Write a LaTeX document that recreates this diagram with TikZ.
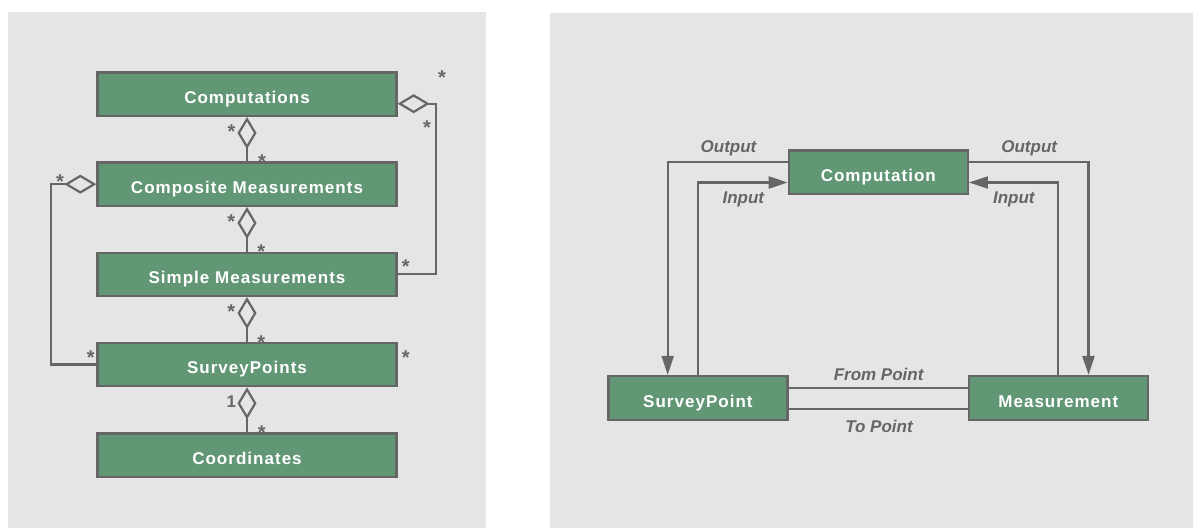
\documentclass[tikz,border=0pt]{standalone}
\usepackage{fontspec}
\setmainfont{Liberation Sans}
\newfontfamily\boxfont{Liberation Sans}[LetterSpace=6]
\usetikzlibrary{arrows.meta}
\definecolor{panelgray}{RGB}{229,229,229}
\definecolor{linegray}{RGB}{102,102,102}
\definecolor{boxgreen}{RGB}{98,151,118}
\begin{document}
\begin{tikzpicture}[x=1pt,y=-1pt,
  umlbox/.style={draw=linegray, line width=2.3pt, fill=boxgreen, text=white,
    font=\boxfont\bfseries\fontsize{17}{20}\selectfont, inner sep=0pt,
    text height=18.2pt, text depth=0pt},
  leftbox/.style={umlbox, minimum width=299pt, minimum height=43.3pt},
  rightbox/.style={umlbox, minimum width=179pt, minimum height=43.7pt},
  conn/.style={draw=linegray, line width=2.2pt},
  agg/.style={conn, {Diamond[open, length=32pt, width=19pt]}-},
  mult/.style={text=linegray, font=\bfseries\fontsize{20}{24}\selectfont, inner sep=0pt, anchor=base, yshift=-11.5pt},
  multnum/.style={text=linegray, font=\bfseries\fontsize{17}{20}\selectfont, inner sep=0pt, anchor=base, yshift=-6.1pt},
  flowlbl/.style={text=linegray, font=\bfseries\itshape\fontsize{17}{20}\selectfont, inner sep=0pt, anchor=base},
  flow/.style={conn, -{Triangle[length=19pt, width=12pt]}}
]
\useasboundingbox (0,0) rectangle (1193,528);
\fill[white] (0,0) rectangle (1193,528);
\fill[panelgray] (8,12) rectangle (486,528);
\fill[panelgray] (550,13.3) rectangle (1193,528);

% left panel
\node[leftbox] (comps) at (247,94.2) {Computations};
\node[leftbox] (compm) at (247,184.2) {Composite Measurements};
\node[leftbox] (simple) at (247,274.3) {Simple Measurements};
\node[leftbox] (survs) at (247,364.5) {SurveyPoints};
\node[leftbox] (coords) at (247,455) {Coordinates};

\draw[agg] (comps.south) -- (compm.north);
\draw[agg] (compm.south) -- (simple.north);
\draw[agg] (simple.south) -- (survs.north);
\draw[agg] (survs.south) -- (coords.north);
\draw[agg] ([yshift=-9.5pt]comps.east) -- ++(38.5,0) |- (simple.east);
\draw[agg] (compm.west) -- ++(-45,0) |- (survs.west);

\node[mult] (s1) at (442,73.4) {*};
\node[mult] (s2) at (427,122.7) {*};
\node[mult] (s3) at (231.4,126.5) {*};
\node[mult] (s4) at (262,156.5) {*};
\node[mult] (s5) at (231.3,217.3) {*};
\node[mult] (s6) at (261.3,247.3) {*};
\node[mult] (s7) at (231.3,307.3) {*};
\node[mult] (s8) at (261.3,338.3) {*};
\node[mult] (s9) at (60,176.7) {*};
\node[mult] (s10) at (90.7,352.7) {*};
\node[mult] (s11) at (405.7,261.7) {*};
\node[mult] (s12) at (405.7,352.7) {*};
\node[multnum] (one) at (231.3,401.3) {1};
\node[mult] (s13) at (261.7,427.6) {*};

% right panel
\node[rightbox] (comp) at (878.3,172.2) {Computation};
\node[rightbox] (sp) at (697.9,397.9) {SurveyPoint};
\node[rightbox] (meas) at (1058.3,397.9) {Measurement};

\draw[flow] ([yshift=10.3pt]comp.west) -| ([xshift=-30.2pt]sp.north);
\draw[flow] (sp.north) |- ([yshift=-10.3pt]comp.west);
\draw[flow] ([yshift=10.3pt]comp.east) -| ([xshift=30.2pt]meas.north);
\draw[flow] (meas.north) |- ([yshift=-10.3pt]comp.east);
\draw[conn] ([yshift=10.2pt]sp.east) -- ([yshift=10.2pt]meas.west);
\draw[conn] ([yshift=-10.8pt]sp.east) -- ([yshift=-10.8pt]meas.west);

\node[flowlbl] (lo1) at (728.5,152.7) {Output};
\node[flowlbl] (li1) at (743.3,203.3) {Input};
\node[flowlbl] (lo2) at (1029.2,152.7) {Output};
\node[flowlbl] (li2) at (1013.8,203.3) {Input};
\node[flowlbl] (lfp) at (878.6,380.7) {From Point};
\node[flowlbl] (ltp) at (879,432.3) {To Point};
\end{tikzpicture}
\end{document}
